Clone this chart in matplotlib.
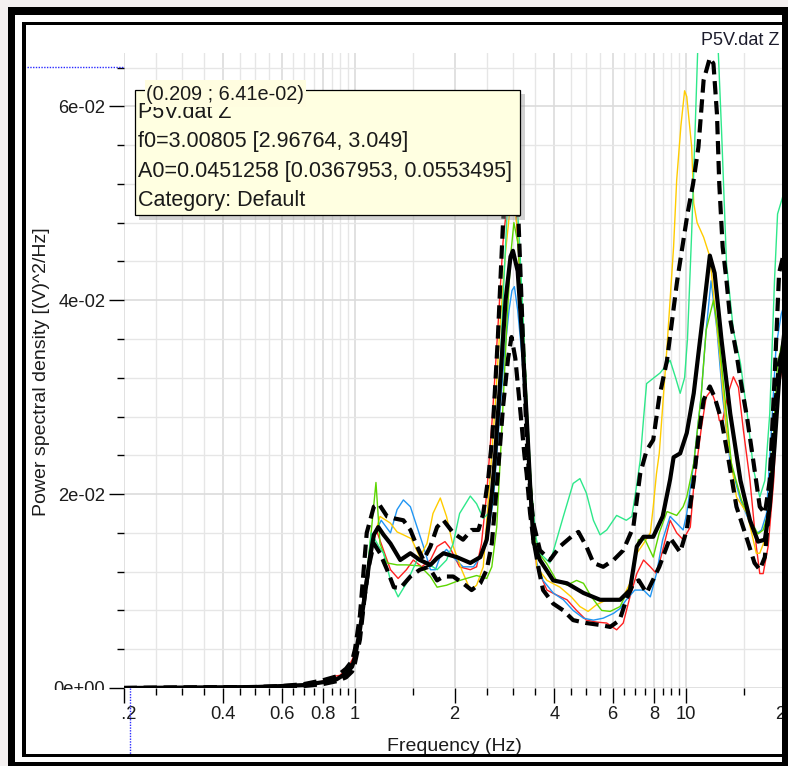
import matplotlib
matplotlib.use("Agg")
import matplotlib.pyplot as plt
from matplotlib.patches import Rectangle
from matplotlib.lines import Line2D
from matplotlib.transforms import Bbox, IdentityTransform, TransformedBbox, blended_transform_factory
from matplotlib.ticker import FixedLocator, FixedFormatter, NullFormatter

plt.rcParams['font.family'] = ['Liberation Sans', 'DejaVu Sans']

W, H = 788, 766

# ---------------- spectra (frequency in Hz, PSD in (V)^2/Hz) ----------------
red_f = [0.2, 0.5, 0.6, 0.7, 0.8, 0.86, 0.9, 0.95, 1.0, 1.035, 1.07, 1.11, 1.16, 1.22, 1.28, 1.35, 1.43, 1.5,
         1.59, 1.69, 1.77, 1.87, 1.94, 2.07, 2.23, 2.33, 2.41, 2.5, 2.6, 2.7, 2.8, 2.9, 2.97, 3.05, 3.12, 3.2,
         3.3, 3.4, 3.54, 3.8, 4.06, 4.37, 4.67, 5.0, 5.37, 5.76, 6.17, 6.46, 6.77, 7.1, 7.44, 7.8, 8.14, 8.5,
         8.95, 9.37, 9.8, 10.3, 10.55, 11.1, 11.5, 11.9, 12.4, 12.6, 12.9, 13.4, 13.9, 14.4, 14.9, 15.6, 16.3,
         16.7, 17.1, 17.7, 18.4, 18.9, 19.6, 20.0]
red_v = [0, 0.0001, 0.0002, 0.0003, 0.0007, 0.0012, 0.0013, 0.002, 0.0035, 0.0065, 0.010, 0.0135, 0.0163,
         0.0142, 0.0122, 0.0113, 0.0122, 0.0132, 0.0125, 0.0132, 0.0146, 0.0151, 0.0144, 0.0125, 0.0122,
         0.0125, 0.0149, 0.0201, 0.028, 0.037, 0.046, 0.051, 0.052, 0.050, 0.045, 0.037, 0.027, 0.019, 0.0125,
         0.0101, 0.0096, 0.0091, 0.0080, 0.0070, 0.0068, 0.0067, 0.0060, 0.0067, 0.0094, 0.0118, 0.0132,
         0.0125, 0.0118, 0.0142, 0.0173, 0.0160, 0.0153, 0.0166, 0.0208, 0.0266, 0.0300, 0.0307, 0.0290,
         0.0276, 0.0276, 0.0304, 0.0321, 0.0310, 0.0266, 0.0214, 0.0146, 0.0118, 0.0118, 0.0146, 0.0214,
         0.0300, 0.0335, 0.035]

blue_f = [0.2, 0.5, 0.6, 0.7, 0.8, 0.9, 0.95, 1.0, 1.035, 1.07, 1.11, 1.15, 1.2, 1.28, 1.34, 1.4, 1.47, 1.54,
          1.61, 1.69, 1.75, 1.81, 1.89, 1.98, 2.12, 2.28, 2.39, 2.5, 2.62, 2.72, 2.82, 2.92, 2.98, 3.03, 3.1,
          3.2, 3.3, 3.4, 3.54, 3.7, 3.97, 4.26, 4.56, 4.9, 5.25, 5.62, 6.04, 6.32, 6.6, 7.0, 7.44, 7.8, 8.14,
          8.5, 8.95, 9.37, 9.8, 10.05, 10.55, 11.1, 11.5, 11.9, 12.4, 12.9, 13.6, 14.6, 15.6, 16.3, 16.9,
          17.5, 18.1, 18.7, 19.4, 20.0]
blue_v = [0, 0.0001, 0.0002, 0.0003, 0.0006, 0.0011, 0.0018, 0.003, 0.0058, 0.0092, 0.0135, 0.0160, 0.0173,
          0.0160, 0.0184, 0.0194, 0.0187, 0.0166, 0.0146, 0.0122, 0.0122, 0.0136, 0.0143, 0.0135, 0.0125,
          0.0125, 0.0135, 0.0149, 0.0195, 0.027, 0.034, 0.039, 0.041, 0.0414, 0.039, 0.034, 0.026, 0.019,
          0.0129, 0.0111, 0.0098, 0.0091, 0.0080, 0.0072, 0.0070, 0.0072, 0.0077, 0.0082, 0.0091, 0.0101,
          0.0101, 0.0094, 0.0118, 0.0153, 0.0177, 0.0170, 0.0163, 0.0180, 0.0232, 0.0300, 0.0369, 0.0420,
          0.0369, 0.0300, 0.0232, 0.0194, 0.0170, 0.0159, 0.0163, 0.0180, 0.0266, 0.0352, 0.0386, 0.040]

yellow_f = [0.2, 0.5, 0.6, 0.7, 0.8, 0.9, 0.95, 1.0, 1.035, 1.07, 1.12, 1.19, 1.28, 1.34, 1.4, 1.48, 1.57,
            1.65, 1.72, 1.81, 1.89, 1.98, 2.1, 2.23, 2.33, 2.44, 2.56, 2.65, 2.75, 2.85, 2.93, 3.0, 3.08,
            3.15, 3.25, 3.35, 3.45, 3.54, 3.8, 4.16, 4.5, 4.78, 5.06, 5.37, 5.76, 6.17, 6.46, 6.77, 7.1,
            7.44, 7.8, 7.96, 8.14, 8.3, 8.76, 9.17, 9.37, 9.65, 9.9, 10.05, 10.4, 10.55, 10.8, 11.3, 11.8,
            12.2, 12.6, 12.9, 13.25, 13.6, 14.2, 15.3, 16.3, 16.7, 17.3, 17.9, 18.5, 19.1, 20.0]
yellow_v = [0, 0.0001, 0.0002, 0.0003, 0.0006, 0.0011, 0.0017, 0.003, 0.006, 0.0095, 0.0145, 0.0177, 0.0170,
            0.0161, 0.0158, 0.0154, 0.0135, 0.0149, 0.0180, 0.0196, 0.0177, 0.0146, 0.0122, 0.0101, 0.0106,
            0.0125, 0.0218, 0.029, 0.038, 0.045, 0.049, 0.050, 0.048, 0.043, 0.034, 0.025, 0.018, 0.0125,
            0.0111, 0.0104, 0.0094, 0.0084, 0.0079, 0.0086, 0.0091, 0.0091, 0.0094, 0.0108, 0.0139, 0.0149,
            0.0160, 0.0187, 0.0221, 0.0242, 0.0352, 0.0455, 0.0524, 0.058, 0.0616, 0.0610, 0.0558, 0.0500,
            0.0480, 0.0465, 0.0445, 0.0395, 0.0350, 0.0310, 0.0266, 0.0240, 0.0197, 0.0180, 0.0139, 0.0139,
            0.0153, 0.0180, 0.026, 0.032, 0.036]

lime_f = [0.2, 0.5, 0.6, 0.7, 0.8, 0.9, 0.95, 1.0, 1.035, 1.07, 1.123, 1.157, 1.19, 1.25, 1.34, 1.43, 1.57,
          1.69, 1.77, 1.89, 2.03, 2.17, 2.33, 2.5, 2.59, 2.68, 2.78, 2.88, 2.96, 3.02, 3.1, 3.2, 3.3, 3.4,
          3.54, 3.8, 4.06, 4.37, 4.67, 4.9, 5.18, 5.56, 5.9, 6.32, 6.77, 7.18, 7.52, 7.96, 8.3, 8.76, 9.37,
          9.8, 10.05, 10.55, 11.1, 11.5, 12.1, 12.5, 13.1, 13.7, 14.7, 15.8, 16.5, 17.1, 17.7, 18.4, 18.9,
          19.6, 20.0]
lime_v = [0, 0.0001, 0.0002, 0.0003, 0.0006, 0.0011, 0.0018, 0.003, 0.006, 0.0095, 0.0166, 0.0212, 0.0149,
          0.0129, 0.0127, 0.0127, 0.0126, 0.0115, 0.0104, 0.0106, 0.0110, 0.0113, 0.0116, 0.0113, 0.0125,
          0.0166, 0.027, 0.038, 0.045, 0.048, 0.046, 0.040, 0.030, 0.021, 0.0142, 0.0128, 0.0111, 0.0106,
          0.0111, 0.0108, 0.0094, 0.0080, 0.0079, 0.0084, 0.0105, 0.0153, 0.0153, 0.0135, 0.0160, 0.0182,
          0.0178, 0.0187, 0.0197, 0.0232, 0.0300, 0.0369, 0.0400, 0.0369, 0.0300, 0.0232, 0.0194, 0.0170,
          0.0159, 0.0163, 0.0180, 0.0266, 0.0335, 0.0359, 0.037]

mint_f = [0.2, 0.5, 0.6, 0.7, 0.8, 0.9, 0.95, 1.0, 1.035, 1.07, 1.12, 1.18, 1.22, 1.28, 1.35, 1.43, 1.54,
          1.65, 1.77, 1.89, 1.98, 2.07, 2.23, 2.33, 2.44, 2.53, 2.62, 2.7, 2.8, 2.88, 2.97, 3.06, 3.14, 3.22,
          3.32, 3.42, 3.52, 3.62, 3.88, 4.26, 4.56, 4.78, 5.0, 5.25, 5.5, 5.76, 6.17, 6.6, 6.86, 7.1, 7.27,
          7.45, 7.6, 8.0, 8.35, 8.95, 9.3, 9.6, 9.9, 10.1, 10.4, 10.65, 10.85, 11.6, 12.5, 12.8, 13.25,
          13.9, 14.6, 15.3, 16.0, 16.7, 17.3, 17.9, 18.5, 18.9, 19.6, 20.0]
mint_v = [0, 0.0001, 0.0002, 0.0003, 0.0006, 0.0011, 0.0018, 0.003, 0.006, 0.0095, 0.0160, 0.0146, 0.0139,
          0.0111, 0.0094, 0.0108, 0.0132, 0.0129, 0.0122, 0.0132, 0.0149, 0.0180, 0.0198, 0.0190, 0.0175,
          0.0180, 0.0205, 0.028, 0.040, 0.049, 0.054, 0.052, 0.046, 0.038, 0.028, 0.020, 0.0155, 0.0139,
          0.0129, 0.0177, 0.0211, 0.0216, 0.0201, 0.0173, 0.0158, 0.0163, 0.0178, 0.0173, 0.0177, 0.0210,
          0.0235, 0.0280, 0.0314, 0.0320, 0.0325, 0.0338, 0.0320, 0.0304, 0.0320, 0.0360, 0.0470, 0.0575,
          0.0660, 0.0740, 0.0660, 0.0575, 0.0438, 0.0369, 0.0335, 0.0283, 0.0225, 0.0197, 0.0214, 0.0283,
          0.0420, 0.0489, 0.0507, 0.051]

# average spectrum and its standard-deviation envelope
mean_f = [0.2, 0.5, 0.6, 0.7, 0.8, 0.88, 0.94, 0.98, 1.0, 1.035, 1.07, 1.11, 1.14, 1.176, 1.22, 1.28, 1.37,
          1.47, 1.57, 1.69, 1.77, 1.85, 2.03, 2.23, 2.39, 2.5, 2.59, 2.65, 2.75, 2.85, 2.95, 3.0, 3.1, 3.2,
          3.3, 3.38, 3.46, 3.62, 3.97, 4.37, 4.9, 5.5, 6.32, 6.77, 7.1, 7.44, 7.96, 8.5, 8.95, 9.17, 9.6,
          10.05, 10.55, 11.2, 11.8, 12.2, 12.8, 13.6, 14.6, 15.6, 16.5, 17.3, 17.9, 18.5, 19.1, 20.0]
mean_v = [0, 0.0001, 0.0002, 0.0003, 0.0006, 0.0009, 0.0015, 0.0022, 0.0032, 0.0060, 0.0095, 0.0135,
          0.0158, 0.0166, 0.0158, 0.0149, 0.0132, 0.0139, 0.0132, 0.0127, 0.0134, 0.0139, 0.0135, 0.0129,
          0.0135, 0.0153, 0.0200, 0.0240, 0.0320, 0.0400, 0.0445, 0.0451, 0.0430, 0.0360, 0.0280, 0.0210,
          0.0150, 0.0132, 0.0111, 0.0108, 0.0098, 0.0091, 0.0091, 0.0101, 0.0146, 0.0156, 0.0156, 0.0177,
          0.0215, 0.0238, 0.0242, 0.0263, 0.0304, 0.0379, 0.0446, 0.0428, 0.0359, 0.0283, 0.0214, 0.0173,
          0.0151, 0.0153, 0.0187, 0.0249, 0.0318, 0.038]

upper_f = [0.2, 0.5, 0.6, 0.7, 0.8, 0.88, 0.94, 0.98, 1.0, 1.035, 1.085, 1.14, 1.18, 1.25, 1.31, 1.4, 1.47,
           1.54, 1.61, 1.69, 1.77, 1.85, 1.98, 2.12, 2.25, 2.36, 2.44, 2.53, 2.6, 2.7, 2.8, 2.88, 2.97, 3.05,
           3.12, 3.2, 3.3, 3.38, 3.46, 3.62, 3.88, 4.16, 4.5, 4.73, 5.0, 5.25, 5.62, 6.04, 6.46, 6.93, 7.27,
           7.6, 7.96, 8.3, 8.76, 9.4, 10.1, 10.5, 10.9, 11.3, 11.8, 12.1, 12.4, 12.6, 12.9, 13.25, 13.6,
           14.2, 14.6, 15.3, 16.0, 16.7, 17.3, 17.9, 18.5, 19.1, 19.6, 20.0]
upper_v = [0, 0.0001, 0.0002, 0.0004, 0.0008, 0.0012, 0.0020, 0.0028, 0.0040, 0.0075, 0.0160, 0.0187,
           0.0190, 0.0177, 0.0175, 0.0173, 0.0163, 0.0146, 0.0132, 0.0146, 0.0166, 0.0173, 0.0160, 0.0153,
           0.0163, 0.0163, 0.0180, 0.0218, 0.0260, 0.0360, 0.0480, 0.0540, 0.0553, 0.0530, 0.0480, 0.0380,
           0.0256, 0.0204, 0.0170, 0.0142, 0.0132, 0.0146, 0.0156, 0.0161, 0.0146, 0.0129, 0.0125, 0.0132,
           0.0142, 0.0166, 0.0221, 0.0245, 0.0256, 0.0300, 0.0338, 0.0420, 0.0489, 0.0520, 0.0558, 0.0627,
           0.0650, 0.0644, 0.0592, 0.0520, 0.0455, 0.0420, 0.0380, 0.0345, 0.0318, 0.0278, 0.0232, 0.0187,
           0.0180, 0.0214, 0.0318, 0.0428, 0.0444, 0.045]

lower_f = [0.2, 0.5, 0.6, 0.7, 0.8, 0.88, 0.94, 0.98, 1.0, 1.035, 1.07, 1.1, 1.14, 1.19, 1.25, 1.31, 1.37,
           1.47, 1.57, 1.67, 1.77, 1.85, 1.98, 2.12, 2.25, 2.39, 2.5, 2.59, 2.7, 2.8, 2.9, 2.97, 3.05, 3.15,
           3.25, 3.3, 3.38, 3.46, 3.6, 3.7, 3.97, 4.26, 4.56, 5.0, 5.5, 5.9, 6.3, 6.6, 6.93, 7.2, 7.6, 7.96,
           8.3, 8.95, 9.6, 10.05, 10.55, 10.9, 11.3, 11.8, 12.2, 12.8, 13.4, 14.2, 15.3, 16.1, 16.7, 17.3,
           17.9, 18.5, 19.1, 20.0]
lower_v = [0, 0.0001, 0.0001, 0.0002, 0.0004, 0.0007, 0.0011, 0.0017, 0.0026, 0.0050, 0.0095, 0.0125,
           0.0149, 0.0139, 0.0122, 0.0104, 0.0103, 0.0115, 0.0122, 0.0125, 0.0111, 0.0115, 0.0115, 0.0108,
           0.0101, 0.0108, 0.0122, 0.0149, 0.0220, 0.0290, 0.0340, 0.0362, 0.0340, 0.0290, 0.0240, 0.0221,
           0.0180, 0.0153, 0.0120, 0.0101, 0.0087, 0.0080, 0.0070, 0.0067, 0.0065, 0.0063, 0.0070, 0.0091,
           0.0108, 0.0111, 0.0098, 0.0112, 0.0125, 0.0155, 0.0140, 0.0163, 0.0214, 0.0259, 0.0297, 0.0311,
           0.0300, 0.0276, 0.0238, 0.0187, 0.0153, 0.0129, 0.0122, 0.0135, 0.0194, 0.0283, 0.0335, 0.036]

x_major = [0.2, 0.4, 0.6, 0.8, 1, 2, 4, 6, 8, 10, 20]
x_major_labels = ["0.2", "0.4", "0.6", "0.8", "1", "2", "4", "6", "8", "10", "20"]
x_minor = [0.25, 0.3, 0.35, 0.45, 0.5, 0.55, 0.65, 0.7, 0.75, 0.85, 0.9, 0.95,
           1.5, 2.5, 3, 3.5, 4.5, 5, 5.5, 6.5, 7, 7.5, 8.5, 9, 9.5, 15]
y_major = [0.0, 0.02, 0.04, 0.06]
y_major_labels = ["0e+00", "2e-02", "4e-02", "6e-02"]
y_minor = [0.004, 0.008, 0.012, 0.016, 0.024, 0.028, 0.032, 0.036,
           0.044, 0.048, 0.052, 0.056, 0.064]

cursor_f, cursor_v = 0.209, 0.0641
tooltip_lines = ["P5V.dat Z",
                 "f0=3.00805 [2.96764, 3.049]",
                 "A0=0.0451258 [0.0367953, 0.0553495]",
                 "Category: Default"]


def fx(px):
    return px / W


def fy(py):
    return 1 - py / H


fig = plt.figure(figsize=(W / 100, H / 100), dpi=100, facecolor='#f4f0f0')

# plot area
ax_l, ax_r, ax_t, ax_b = 123.6, 785.7, 53.0, 688.0
ax = fig.add_axes([fx(ax_l), fy(ax_b), (ax_r - ax_l) / W, (ax_b - ax_t) / H])
ax.set_xscale('log')
ax.set_xlim(0.2, 20)
ax.set_ylim(0, 0.0655)
for s in ax.spines.values():
    s.set_visible(False)

ax.xaxis.set_major_locator(FixedLocator(x_major))
ax.xaxis.set_major_formatter(FixedFormatter(x_major_labels))
ax.xaxis.set_minor_locator(FixedLocator(x_minor))
ax.xaxis.set_minor_formatter(NullFormatter())
ax.yaxis.set_major_locator(FixedLocator(y_major))
ax.yaxis.set_major_formatter(FixedFormatter(y_major_labels))
ax.yaxis.set_minor_locator(FixedLocator(y_minor))
ax.yaxis.set_minor_formatter(NullFormatter())

ax.tick_params(which='major', direction='out', length=10.8, width=1.0, color='black',
               labelsize=13.2, labelcolor='#1c1c1c')
ax.tick_params(which='minor', direction='out', length=5.0, width=1.0, color='black')
ax.tick_params(axis='x', which='major', pad=2)
ax.tick_params(axis='y', which='major', pad=2.4)

ax.set_axisbelow(True)
ax.grid(which='major', color='#dcdcdc', lw=1.2)
ax.grid(which='minor', color='#e6e6e6', lw=1.0)

thin = dict(lw=1.0, zorder=2, solid_joinstyle='round')
ax.plot(red_f, red_v, color='#ff2020', **thin)
ax.plot(blue_f, blue_v, color='#2196f3', **thin)
ax.plot(yellow_f, yellow_v, color='#ffcc00', **thin)
ax.plot(lime_f, lime_v, color='#5cd600', **thin)
ax.plot(mint_f, mint_v, color='#2ee88a', **thin)

ax.plot(upper_f, upper_v, color='black', lw=3.0, ls=(0, (3.2, 1.6)), zorder=3)
ax.plot(lower_f, lower_v, color='black', lw=3.0, ls=(0, (3.2, 1.6)), zorder=3)
ax.plot(mean_f, mean_v, color='black', lw=3.0, zorder=4, solid_joinstyle='round')

# axis titles
fig.text(fx(454), fy(751), "Frequency (Hz)", ha='center', va='baseline', fontsize=14, color='#1c1c1c')
fig.text(fx(46), fy(372), "Power spectral density [(V)^2/Hz]", rotation=90, rotation_mode='anchor',
         ha='center', va='baseline', fontsize=14, color='#1c1c1c')
fig.text(fx(701), fy(45), "P5V.dat Z", ha='left', va='baseline', fontsize=13, color='#1c1c2c', zorder=3)

# cursor cross-hair (blue dotted)
hline = Line2D([fx(27), fx(ax_l - 1)], [cursor_v, cursor_v],
               transform=blended_transform_factory(fig.transFigure, ax.transData),
               color='#2a2aff', lw=1.0, ls=(0, (1, 1)), zorder=2)
vline = Line2D([cursor_f, cursor_f], [fy(ax_b), fy(755)],
               transform=blended_transform_factory(ax.transData, fig.transFigure),
               color='#2a2aff', lw=1.0, ls=(0, (1, 1)), zorder=2)
fig.add_artist(hline)
fig.add_artist(vline)


def prect(x0, y0, x1, y1, **kw):
    r = Rectangle((fx(x0), fy(y1)), (x1 - x0) / W, (y1 - y0) / H, transform=fig.transFigure, **kw)
    fig.add_artist(r)
    return r


# white window interior behind everything
prect(8, 7, 788, 766, facecolor='white', edgecolor='none', zorder=-1)

# tooltip with shadow
prect(139, 94, 525, 220, facecolor='#9a9a9a', edgecolor='none', alpha=0.45, zorder=5)
prect(135, 90, 520, 215, facecolor='#ffffe1', edgecolor='black', lw=0.9, zorder=6)
baselines = [118, 146.5, 176.5, 206]
for txt, by in zip(tooltip_lines, baselines):
    fig.text(fx(138), fy(by), txt, ha='left', va='baseline', fontsize=15.5, color='#1a1a1a', zorder=7)

# cursor coordinate label
prect(145, 80, 306, 106.5, facecolor='#fffde0', edgecolor='none', zorder=8)
fig.text(fx(146), fy(99.5), "(%.3f ; %.2e)" % (cursor_f, cursor_v), ha='left', va='baseline',
         fontsize=14.3, color='#1a1a1a', zorder=9)

# window frame
frame = dict(facecolor='black', edgecolor='none', zorder=10)
prect(8, 7, 788, 15, **frame)
prect(8, 7, 15, 766, **frame)
prect(782, 7, 788, 766, **frame)
prect(8, 761.5, 788, 766, **frame)
prect(22, 22, 782, 25, **frame)
prect(22, 22, 25.5, 757, **frame)
prect(22, 753.5, 782, 757, **frame)

# labels partly hidden at the edges of the plot region
fig.canvas.draw()
xt0 = ax.xaxis.get_major_ticks()[0].label1
xt0.set_clip_box(TransformedBbox(Bbox.from_extents(122, 0, W, H), IdentityTransform()))
xt0.set_clip_on(True)
yt0 = ax.yaxis.get_major_ticks()[0].label1
yt0.set_clip_box(TransformedBbox(Bbox.from_extents(0, H - 690, W, H), IdentityTransform()))
yt0.set_clip_on(True)

fig.savefig("out.png", dpi=100, facecolor=fig.get_facecolor())
